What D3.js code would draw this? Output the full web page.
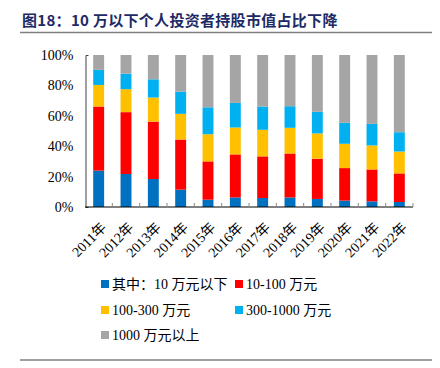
<!DOCTYPE html>
<html>
<head>
<meta charset="utf-8">
<script src="https://cdn.jsdelivr.net/npm/d3@7"></script>
<style>
  body { margin: 0; background: #fff; }
  svg { display: block; }
</style>
</head>
<body>
<svg id="chart"></svg>
<script>
// categories and series (percent of holdings, each year sums to 100)
var years = ["2011年","2012年","2013年","2014年","2015年","2016年","2017年","2018年","2019年","2020年","2021年","2022年"];
var below10 = [23.9, 21.7, 18.4, 11.4, 4.8, 6.3, 5.9, 6.3, 5.3, 4.2, 3.7, 3.3];
var from10to100 = [42.2, 40.7, 37.8, 33.0, 25.2, 28.3, 27.4, 28.9, 26.4, 21.4, 21.0, 18.8];
var from100to300 = [14.2, 15.1, 15.8, 16.9, 17.9, 17.7, 17.5, 16.9, 16.7, 16.0, 15.8, 14.4];
var from300to1000 = [9.9, 10.2, 12.0, 14.6, 17.7, 16.2, 15.3, 14.2, 14.2, 13.8, 14.2, 12.7];
var above1000 = [9.8, 12.3, 16.0, 24.1, 34.4, 31.5, 33.9, 33.7, 37.4, 44.6, 45.3, 50.8];
var seriesNames = ["其中：10 万元以下", "10-100 万元", "100-300 万元", "300-1000 万元", "1000 万元以上"];
var yTicks = [0, 20, 40, 60, 80, 100];

var colors = ["#0070C0", "#FF0000", "#FFC000", "#00B0F0", "#A5A5A5"];
var serif = "'Liberation Serif', 'Noto Sans CJK SC', serif";

var width = 440, height = 368;
var svg = d3.select("#chart").attr("width", width).attr("height", height);

// title
svg.append("text")
  .attr("x", 22).attr("y", 26)
  .attr("fill", "#1C2A66")
  .attr("font-weight", "bold")
  .attr("font-size", 15)
  .attr("letter-spacing", 0.3)
  .attr("font-family", "'Noto Sans CJK SC', sans-serif")
  .text("图18：10 万以下个人投资者持股市值占比下降");

svg.append("line")
  .attr("x1", 20).attr("x2", 432).attr("y1", 32.5).attr("y2", 32.5)
  .attr("stroke", "#808080").attr("stroke-width", 1.5);

svg.append("line")
  .attr("x1", 20).attr("x2", 432).attr("y1", 360).attr("y2", 360)
  .attr("stroke", "#808080").attr("stroke-width", 1.5);

// scales
var x = d3.scaleBand().domain(years).range([85, 413]).paddingInner(0.6).paddingOuter(0.3);
var y = d3.scaleLinear().domain([0, 100]).range([207, 55]);

var table = years.map(function(yr, i) {
  return { year: yr, s0: below10[i], s1: from10to100[i], s2: from100to300[i], s3: from300to1000[i], s4: above1000[i] };
});
var stack = d3.stack().keys(["s0", "s1", "s2", "s3", "s4"]);
var layers = stack(table);

svg.selectAll("g.layer")
  .data(layers)
  .enter()
  .append("g")
  .attr("class", "layer")
  .attr("fill", function(d, i) { return colors[i]; })
  .selectAll("rect")
  .data(function(d) { return d; })
  .enter()
  .append("rect")
  .attr("x", function(d) { return x(d.data.year); })
  .attr("width", x.bandwidth())
  .attr("y", function(d) { return y(Math.min(d[1], 100)); })
  .attr("height", function(d) { return y(d[0]) - y(Math.min(d[1], 100)); });

// y axis
var yAxis = svg.append("g")
  .attr("transform", "translate(85.5,0)")
  .call(d3.axisLeft(y).tickValues(yTicks).tickFormat(function(d) { return d + "%"; })
    .tickSizeInner(0).tickSizeOuter(-3).tickPadding(12));
yAxis.select(".domain").attr("stroke", "#404040");
yAxis.selectAll("text")
  .attr("font-family", serif).attr("font-size", 14).attr("fill", "#000");

// x axis: ticks between bands, pointing up
var bounds = years.map(function(d) { return x(d) - x.step() * x.paddingInner() / 2; }).concat([413]);
var xAxis = svg.append("g").attr("transform", "translate(0,207)");
xAxis.append("line").attr("x1", 85).attr("x2", 413).attr("stroke", "#000").attr("stroke-width", 1.2);
xAxis.selectAll("line.tick")
  .data(bounds.slice(1))
  .enter()
  .append("line")
  .attr("class", "tick")
  .attr("x1", function(d) { return d; }).attr("x2", function(d) { return d; })
  .attr("y1", 0).attr("y2", -4)
  .attr("stroke", "#888");
xAxis.selectAll("text")
  .data(years)
  .enter()
  .append("text")
  .attr("transform", function(d) { return "translate(" + (x(d) + x.bandwidth() / 2 + 5) + ",18) rotate(-45)"; })
  .attr("text-anchor", "end")
  .attr("dy", "0.35em")
  .attr("font-family", serif).attr("font-size", 14)
  .text(function(d) { return d; });

// legend
var legendPos = [[101, 284], [235, 284], [101, 310], [235, 310], [101, 335]];
var legend = svg.selectAll("g.legend")
  .data(seriesNames)
  .enter()
  .append("g")
  .attr("class", "legend")
  .attr("transform", function(d, i) { return "translate(" + legendPos[i][0] + "," + legendPos[i][1] + ")"; });
legend.append("rect")
  .attr("x", 0).attr("y", -4).attr("width", 8).attr("height", 8)
  .attr("fill", function(d, i) { return colors[i]; });
legend.append("text")
  .attr("x", 11).attr("dy", "0.35em")
  .attr("font-family", serif).attr("font-size", 14)
  .text(function(d) { return d; });
</script>
</body>
</html>
